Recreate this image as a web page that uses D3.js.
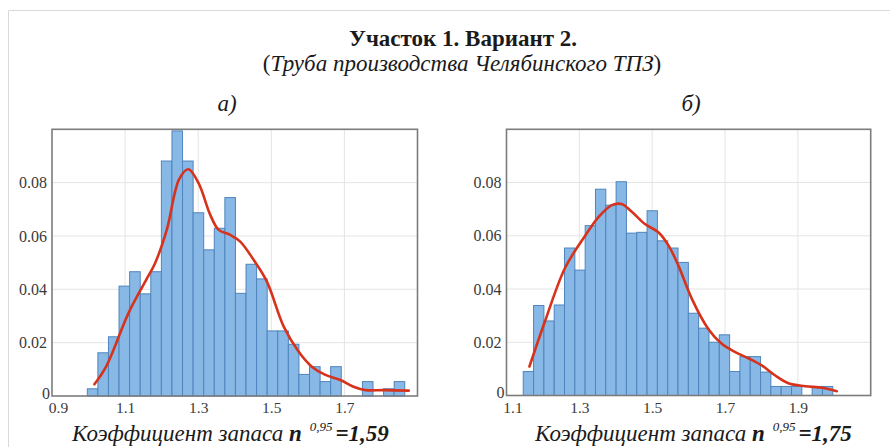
<!DOCTYPE html>
<html>
<head>
<meta charset="utf-8">
<script src="https://cdn.jsdelivr.net/npm/d3@7"></script>
<style>
  html, body { margin: 0; padding: 0; background: #fff; }
  svg { display: block; }
</style>
</head>
<body>
<svg id="chart" width="890" height="447"></svg>
<script>
// Relative frequencies of the safety factor, 30 equal bins per panel.
const leftBinStart = 0.9966;
const leftBinWidth = 0.02895;
const leftFreq = [
  0.0027, 0.0162, 0.0222, 0.0412, 0.0466, 0.0383, 0.0466, 0.0881, 0.0994, 0.0881,
  0.0687, 0.0548, 0.0629, 0.0744, 0.0385, 0.0494, 0.0439, 0.0244, 0.0244, 0.0194,
  0.0081, 0.0110, 0.0054, 0.0110, 0, 0, 0.0054, 0, 0.0027, 0.0054
];
const leftCurveX = [1.016, 1.048, 1.109, 1.155, 1.182, 1.214, 1.248, 1.273, 1.301, 1.333,
  1.356, 1.388, 1.415, 1.452, 1.488, 1.534, 1.575, 1.611, 1.648, 1.689, 1.725, 1.758, 1.808, 1.876];
const leftCurveY = [0.0044, 0.0110, 0.0310, 0.0429, 0.0498, 0.0623, 0.0813, 0.0850, 0.0798, 0.0679,
  0.0623, 0.0604, 0.0579, 0.0510, 0.0429, 0.0260, 0.0166, 0.0110, 0.0079, 0.0060, 0.0035, 0.0022, 0.0022, 0.0020];
const leftXTicks = [0.9, 1.1, 1.3, 1.5, 1.7];

const rightBinStart = 1.146;
const rightBinWidth = 0.02833;
const rightFreq = [
  0.0090, 0.0338, 0.0280, 0.0340, 0.0554, 0.0471, 0.0638, 0.0775, 0.0715, 0.0803,
  0.0610, 0.0613, 0.0694, 0.0581, 0.0554, 0.0500, 0.0309, 0.0253, 0.0200, 0.0228,
  0.0090, 0.0146, 0.0146, 0.0088, 0.0034, 0.0034, 0.0034, 0, 0.0034, 0.0034
];
const rightCurveX = [1.163, 1.206, 1.261, 1.316, 1.352, 1.389, 1.416, 1.444, 1.480, 1.517,
  1.545, 1.572, 1.609, 1.654, 1.691, 1.728, 1.764, 1.801, 1.838, 1.874, 1.920, 1.966, 2.007];
const rightCurveY = [0.0109, 0.0280, 0.0480, 0.0600, 0.0669, 0.0715, 0.0719, 0.0690, 0.0644, 0.0613,
  0.0563, 0.0488, 0.0363, 0.0250, 0.0194, 0.0163, 0.0140, 0.0113, 0.0075, 0.0046, 0.0035, 0.0029, 0.0016];
const rightXTicks = [1.1, 1.3, 1.5, 1.7, 1.9];

const yTicks = [0, 0.02, 0.04, 0.06, 0.08];

const titleText = "Участок 1. Вариант 2.";
const subtitleText = "Труба производства Челябинского ТПЗ";
const axisTitleText = "Коэффициент запаса ";
const quantileSymbol = "n";
const quantileLevel = "0,95";
const leftQuantile = "=1,59";
const rightQuantile = "=1,75";
const leftPanelTag = "а)";
const rightPanelTag = "б)";

const SERIF = "Liberation Serif";
const svg = d3.select("#chart");

// applies the serif face to a text selection
function serif(sel, size) {
  return sel.style("font-family", SERIF).style("font-size", size + "px");
}

// outer frame (top and left edges)
svg.append("line").attr("x1", 8.5).attr("x2", 890).attr("y1", 10.5).attr("y2", 10.5)
  .attr("stroke", "#d9d9d9").attr("stroke-width", 1);
svg.append("line").attr("x1", 8.5).attr("x2", 8.5).attr("y1", 10.5).attr("y2", 447)
  .attr("stroke", "#d9d9d9").attr("stroke-width", 1);

// headings
serif(svg.append("text"), 23).attr("x", 463).attr("y", 46).attr("text-anchor", "middle")
  .style("font-weight", "bold").attr("fill", "#1a1a1a").text(titleText);
const sub = serif(svg.append("text"), 23).attr("x", 462).attr("y", 71).attr("text-anchor", "middle")
  .attr("fill", "#1a1a1a");
sub.append("tspan").text("(");
sub.append("tspan").style("font-style", "italic").text(subtitleText);
sub.append("tspan").text(")");

function drawPanel(p) {
  const x = d3.scaleLinear().domain(p.xDomain).range([p.left, p.right]);
  const y = d3.scaleLinear().domain([0, 0.1]).range([p.bottom, p.top]);
  const g = svg.append("g");

  // panel tag
  serif(g.append("text"), 23).attr("x", p.tagX).attr("y", 111).attr("text-anchor", "middle")
    .style("font-style", "italic").attr("fill", "#1a1a1a").text(p.tag);

  // grid
  g.append("g").selectAll("line").data(p.xTicks.slice(1)).join("line")
    .attr("x1", d => x(d)).attr("x2", d => x(d)).attr("y1", p.top).attr("y2", p.bottom)
    .attr("stroke", "#e4e4e4").attr("stroke-width", 1);
  g.append("g").selectAll("line").data(yTicks.slice(1)).join("line")
    .attr("x1", p.left).attr("x2", p.right).attr("y1", d => y(d)).attr("y2", d => y(d))
    .attr("stroke", "#e4e4e4").attr("stroke-width", 1);

  // histogram bars
  const bins = p.freq.map((v, i) => ({ x0: p.binStart + i * p.binWidth, x1: p.binStart + (i + 1) * p.binWidth, v }));
  g.append("g").selectAll("rect").data(bins.filter(b => b.v > 0)).join("rect")
    .attr("x", d => x(d.x0)).attr("width", d => x(d.x1) - x(d.x0))
    .attr("y", d => y(d.v)).attr("height", d => y(0) - y(d.v))
    .attr("fill", "#88b8e5").attr("stroke", "#4f84bd").attr("stroke-width", 1);

  // density curve
  const pts = p.curveX.map((cx, i) => [cx, p.curveY[i]]);
  g.append("path").datum(pts)
    .attr("d", d3.line().x(d => x(d[0])).y(d => y(d[1])).curve(d3.curveCatmullRom.alpha(0.5)))
    .attr("fill", "none").attr("stroke", "#d7331c").attr("stroke-width", 2.6)
    .attr("stroke-linejoin", "round").attr("stroke-linecap", "round");

  // frame
  g.append("rect").attr("x", p.left).attr("y", p.top)
    .attr("width", p.right - p.left).attr("height", p.bottom - p.top)
    .attr("fill", "none").attr("stroke", "#7c7c7c").attr("stroke-width", 1.6);

  // axes
  const xAxis = g.append("g").attr("transform", `translate(0,${p.bottom})`)
    .call(d3.axisBottom(x).tickValues(p.xTicks).tickSize(0).tickPadding(6).tickFormat(d3.format(".1f")));
  xAxis.select(".domain").remove();
  serif(xAxis.selectAll("text"), 15.5).attr("fill", "#3a3a3a")
    .attr("dx", (d, i) => i === 0 ? 6 : 0);

  const yAxis = g.append("g").attr("transform", `translate(${p.left},0)`)
    .call(d3.axisLeft(y).tickValues(yTicks).tickSize(0).tickPadding(5)
      .tickFormat(d => d === 0 ? "0" : d3.format(".2f")(d)));
  yAxis.select(".domain").remove();
  serif(yAxis.selectAll("text"), 16).attr("fill", "#3a3a3a")
    .attr("dx", d => d === 0 ? 3 : 0).attr("dy", d => d === 0 ? "0.15em" : "0.32em");

  // axis title
  const t = serif(g.append("text"), 23).attr("x", p.titleX).attr("y", 441)
    .style("font-style", "italic").attr("fill", "#1a1a1a");
  t.append("tspan").text(axisTitleText);
  t.append("tspan").style("font-weight", "bold").text(quantileSymbol);
  t.append("tspan").style("font-size", "13px").attr("dx", 8).attr("dy", -10).text(quantileLevel);
  t.append("tspan").style("font-weight", "bold").attr("dx", 3).attr("dy", 10).text(p.quantile);
}

drawPanel({
  left: 52, right: 417.5, top: 129.3, bottom: 396,
  xDomain: [0.9, 1.9], xTicks: leftXTicks,
  binStart: leftBinStart, binWidth: leftBinWidth, freq: leftFreq,
  curveX: leftCurveX, curveY: leftCurveY,
  tag: leftPanelTag, tagX: 227, titleX: 72, quantile: leftQuantile
});
drawPanel({
  left: 506.5, right: 870.7, top: 129.3, bottom: 395.5,
  xDomain: [1.1, 2.1], xTicks: rightXTicks,
  binStart: rightBinStart, binWidth: rightBinWidth, freq: rightFreq,
  curveX: rightCurveX, curveY: rightCurveY,
  tag: rightPanelTag, tagX: 691, titleX: 535, quantile: rightQuantile
});
</script>
</body>
</html>
